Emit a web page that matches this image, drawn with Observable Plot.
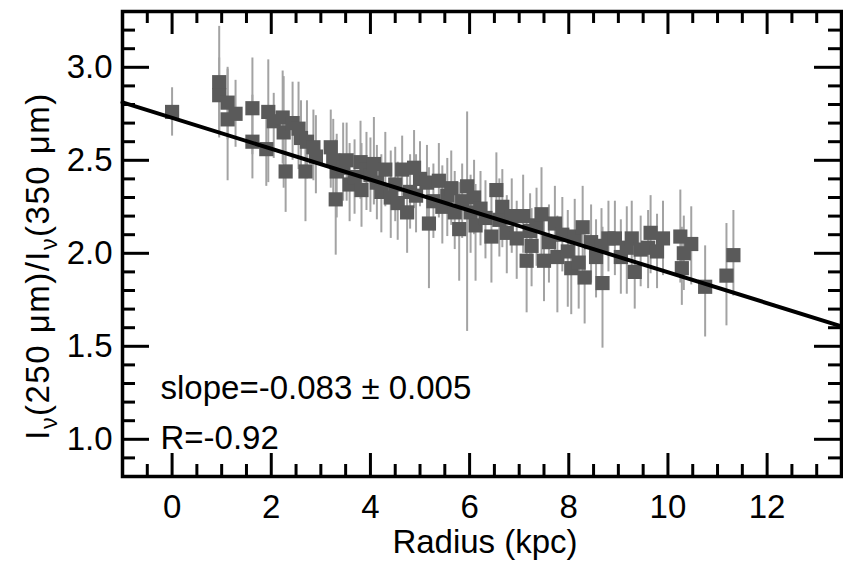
<!DOCTYPE html>
<html><head><meta charset="utf-8">
<script src="https://cdn.jsdelivr.net/npm/d3@7"></script>
<script src="https://cdn.jsdelivr.net/npm/@observablehq/plot@0.6"></script>
<style>body{margin:0;background:#fff} svg{display:block}</style>
</head><body><div id="chart"></div>
<script>
// ---- data ----
const radius = [0.0,0.95,0.95,1.12,1.12,1.28,1.62,1.62,1.94,1.9,2.05,2.23,2.25,2.29,2.43,2.55,2.6,2.69,2.72,2.85,2.9,3.2,3.25,3.32,3.3,3.45,3.52,3.58,3.68,3.8,3.82,3.92,4.0,4.07,4.13,4.22,4.3,4.41,4.5,4.55,4.64,4.74,4.8,4.88,4.92,5.0,5.14,5.18,5.27,5.38,5.45,5.55,5.63,5.7,5.79,5.85,5.95,6.02,6.09,6.12,6.22,6.32,6.44,6.54,6.6,6.66,6.75,6.85,6.95,7.08,7.15,7.22,7.25,7.35,7.45,7.5,7.6,7.72,7.77,7.87,7.98,8.05,8.12,8.2,8.28,8.32,8.45,8.55,8.66,8.68,8.8,8.93,9.05,9.17,9.27,9.33,9.45,9.6,9.65,9.78,9.9,10.25,10.28,10.32,10.47,10.75,11.18,11.32];
const ratio = [2.76,2.92,2.85,2.81,2.72,2.75,2.78,2.60,2.76,2.56,2.71,2.73,2.65,2.44,2.70,2.67,2.62,2.44,2.60,2.57,2.52,2.57,2.50,2.44,2.29,2.46,2.50,2.37,2.41,2.49,2.34,2.45,2.42,2.48,2.38,2.33,2.45,2.30,2.37,2.27,2.45,2.22,2.33,2.46,2.31,2.40,2.38,2.16,2.28,2.39,2.25,2.31,2.35,2.22,2.13,2.28,2.36,2.22,2.30,2.15,2.24,2.19,2.09,2.34,2.18,2.25,2.11,2.20,2.08,2.20,1.96,2.12,2.04,2.15,2.21,1.96,2.06,2.16,1.98,2.10,2.01,1.92,2.09,1.95,2.14,1.87,2.06,1.98,2.04,1.84,2.08,2.08,1.98,2.03,2.08,1.90,2.02,2.03,2.11,2.01,2.08,2.09,1.92,2.00,2.05,1.82,1.88,1.99];
const errLow = [0.13,0.30,0.22,0.20,0.33,0.18,0.25,0.20,0.38,0.20,0.20,0.25,0.30,0.22,0.20,0.22,0.18,0.27,0.20,0.18,0.20,0.22,0.20,0.25,0.30,0.18,0.22,0.20,0.20,0.20,0.20,0.22,0.20,0.22,0.20,0.22,0.20,0.22,0.20,0.20,0.18,0.22,0.20,0.22,0.20,0.15,0.20,0.35,0.20,0.20,0.20,0.22,0.20,0.20,0.28,0.20,0.78,0.22,0.20,0.30,0.20,0.22,0.25,0.20,0.20,0.22,0.22,0.20,0.22,0.20,0.28,0.20,0.22,0.22,0.22,0.22,0.22,0.20,0.30,0.20,0.30,0.25,0.20,0.25,0.30,0.25,0.22,0.22,0.20,0.35,0.18,0.20,0.20,0.25,0.20,0.20,0.20,0.22,0.22,0.20,0.20,0.25,0.20,0.20,0.22,0.27,0.27,0.22];
const errHigh = [0.13,0.30,0.20,0.18,0.28,0.18,0.27,0.25,0.28,0.20,0.15,0.25,0.30,0.32,0.22,0.25,0.20,0.20,0.22,0.20,0.22,0.20,0.22,0.20,0.32,0.24,0.20,0.22,0.20,0.22,0.25,0.20,0.20,0.25,0.20,0.20,0.20,0.25,0.20,0.22,0.18,0.22,0.20,0.20,0.22,0.20,0.20,0.30,0.20,0.20,0.22,0.20,0.20,0.22,0.25,0.20,0.40,0.20,0.20,0.22,0.20,0.20,0.22,0.20,0.22,0.20,0.20,0.20,0.20,0.22,0.25,0.20,0.20,0.20,0.25,0.22,0.20,0.20,0.22,0.20,0.22,0.20,0.20,0.22,0.22,0.25,0.20,0.20,0.20,0.30,0.20,0.20,0.20,0.22,0.20,0.20,0.18,0.20,0.20,0.20,0.20,0.25,0.22,0.20,0.20,0.22,0.28,0.24];
const fitSlope = -0.083;
const fitIntercept = 2.728;
const fitRange = [-1, 13.5];
const xMajor = [0, 2, 4, 6, 8, 10, 12];
const xMinor = [-0.5, 0.5, 1, 1.5, 2.5, 3, 3.5, 4.5, 5, 5.5, 6.5, 7, 7.5, 8.5, 9, 9.5, 10.5, 11, 11.5, 12.5, 13];
const yMajor = [1.0, 1.5, 2.0, 2.5, 3.0];
const yMinor = [0.9, 1.1, 1.2, 1.3, 1.4, 1.6, 1.7, 1.8, 1.9, 2.1, 2.2, 2.3, 2.4, 2.6, 2.7, 2.8, 2.9, 3.1, 3.2];
const xLabel = "Radius (kpc)";
const yLabel = "Iν(250 μm)/Iν(350 μm)";
const slopeText = "slope=-0.083 ± 0.005";
const rText = "R=-0.92";

// ---- layout ----
const W = 843, H = 563, mL = 122, mR = 2, mT = 11, mB = 87;
const iw = W - mL - mR, ih = H - mT - mB;
const font = "'Liberation Sans', Arial, Helvetica, sans-serif";
const FS = 33;

const pts = radius.map((r, i) => ({r, v: ratio[i], lo: ratio[i] - errLow[i], hi: ratio[i] + errHigh[i]}));
const fit = fitRange.map(x => ({x, y: fitIntercept + fitSlope * x}));
const tk = {stroke: "#000", strokeWidth: 3};
const txt = {fontSize: FS, lineAnchor: "middle"};

const plot = Plot.plot({
  width: W, height: H,
  marginLeft: mL, marginRight: mR, marginTop: mT, marginBottom: mB,
  x: {domain: [-1, 13.5]},
  y: {domain: [0.8, 3.3]},
  style: {fontFamily: font, fontSize: FS + "px", color: "#000", background: "#fff"},
  marks: [
    Plot.ruleX(pts, {x: "r", y1: "lo", y2: "hi", stroke: "#a3a3a3", strokeWidth: 2}),
    Plot.dot(pts, {x: "r", y: "v", symbol: "square", r: 8, fill: "#5a5a5a", stroke: "none"}),
    Plot.line(fit, {x: "x", y: "y", stroke: "#000", strokeWidth: 4}),
    Plot.ruleX(xMajor, {...tk, insetTop: ih - 23}),
    Plot.ruleX(xMajor, {...tk, insetBottom: ih - 23}),
    Plot.ruleX(xMinor, {...tk, insetTop: ih - 12}),
    Plot.ruleX(xMinor, {...tk, insetBottom: ih - 12}),
    Plot.ruleY(yMajor, {...tk, insetRight: iw - 27}),
    Plot.ruleY(yMajor, {...tk, insetLeft: iw - 27}),
    Plot.ruleY(yMinor, {...tk, insetRight: iw - 13}),
    Plot.ruleY(yMinor, {...tk, insetLeft: iw - 13}),
    Plot.frame({stroke: "#000", strokeWidth: 3.5}),
    Plot.axisX({ticks: xMajor, tickSize: 0, tickPadding: 18, label: null, fontSize: FS, tickFormat: d => String(d)}),
    Plot.axisY({ticks: yMajor, tickSize: 0, tickPadding: 10, label: null, fontSize: FS, tickFormat: d => d.toFixed(1)}),
    Plot.text([xLabel], {...txt, frameAnchor: "bottom", textAnchor: "middle", dx: 3, dy: 66}),
    Plot.text([yLabel], {...txt, frameAnchor: "left", textAnchor: "middle", dx: -84, dy: 22, rotate: -90}),
    Plot.text([slopeText], {...txt, frameAnchor: "bottom-left", textAnchor: "start", dx: 38, dy: -88}),
    Plot.text([rText], {...txt, frameAnchor: "bottom-left", textAnchor: "start", dx: 38, dy: -38})
  ]
});

// subscript nu in the y label
plot.querySelectorAll("text").forEach(t => {
  if (t.textContent === yLabel) {
    const ns = "http://www.w3.org/2000/svg";
    t.textContent = "";
    t.setAttribute("letter-spacing", "1.5");
    const parts = [["I",0,null],["ν",8,"70%"],["(250 μm)/I",-8,null],["ν",8,"70%"],["(350 μm)",-8,null]];
    parts.forEach(([s, dy, fs]) => {
      const sp = document.createElementNS(ns, "tspan");
      sp.textContent = s;
      if (dy) sp.setAttribute("dy", dy);
      if (fs) sp.setAttribute("font-size", fs);
      t.appendChild(sp);
    });
  }
});
document.getElementById("chart").appendChild(plot);
</script>
</body></html>
